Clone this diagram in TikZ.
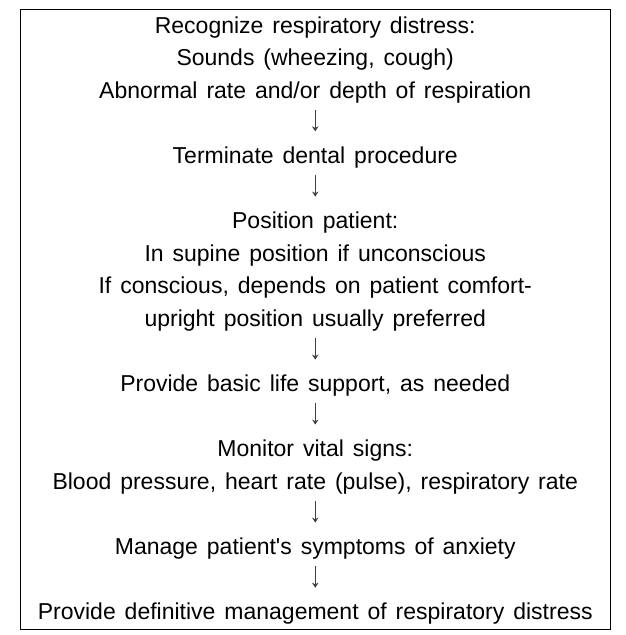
\documentclass[tikz,border=0pt]{standalone}
\usepackage{fontspec}
\setmainfont{Liberation Sans}[WordSpace=1.4]
\usetikzlibrary{arrows.meta}
\begin{document}
\begin{tikzpicture}[x=1pt,y=1pt]
\tikzstyle{textblock}=[align=center,inner sep=0pt,anchor=base,font=\fontsize{23}{32.6}\selectfont]
\tikzstyle{flow}=[-{Stealth[length=5pt,width=6.5pt]},line width=1pt,draw=black!75,shorten <=6.9pt,shorten >=15.2pt]
\useasboundingbox (0,0) rectangle (626,-635);
\draw[line width=1pt] (20.5,-9.5) rectangle (610,-629);
% base anchor = last line of each block
\path (315.25,-98.2) node[textblock](recog){Recognize respiratory distress:\\Sounds (wheezing, cough)\\Abnormal rate and/or depth of respiration};
\path (315.25,-163.4) node[textblock](term){Terminate dental procedure};
\path (315.25,-326.4) node[textblock](pos){Position patient:\\In supine position if unconscious\\If conscious, depends on patient comfort-\\upright position usually preferred};
\path (315.25,-391.6) node[textblock](bls){Provide basic life support, as needed};
\path (315.25,-489.2) node[textblock](vital){Monitor vital signs:\\Blood pressure, heart rate (pulse), respiratory rate};
\path (315.25,-554.6) node[textblock](anx){Manage patient\textquotesingle s symptoms of anxiety};
\path (315.25,-619.8) node[textblock](defin){Provide definitive management of respiratory distress};
\draw[flow] (recog) -- (term);
\draw[flow] (term) -- (pos);
\draw[flow] (pos) -- (bls);
\draw[flow] (bls) -- (vital);
\draw[flow] (vital) -- (anx);
\draw[flow] (anx) -- (defin);
\end{tikzpicture}
\end{document}
